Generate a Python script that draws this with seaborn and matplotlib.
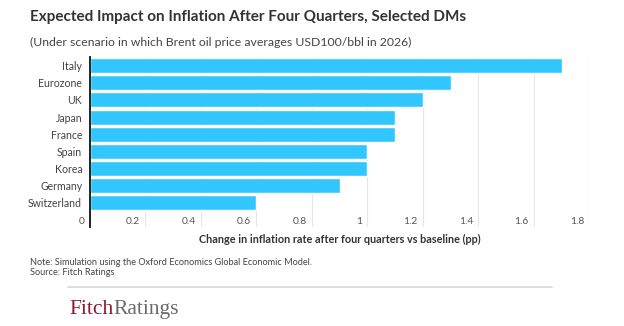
import matplotlib
matplotlib.use("Agg")
import matplotlib.pyplot as plt
import matplotlib.transforms as mtransforms
from matplotlib.lines import Line2D
import seaborn as sns
import pandas as pd

countries = ["Italy", "Eurozone", "UK", "Japan", "France", "Spain", "Korea", "Germany", "Switzerland"]
impact_pp = [1.7, 1.3, 1.2, 1.1, 1.1, 1.0, 1.0, 0.9, 0.6]
x_ticks = [0, 0.2, 0.4, 0.6, 0.8, 1.0, 1.2, 1.4, 1.6, 1.8]
x_tick_labels = ["0", "0.2", "0.4", "0.6", "0.8", "1", "1.2", "1.4", "1.6", "1.8"]

title = "Expected Impact on Inflation After Four Quarters, Selected DMs"
subtitle = "(Under scenario in which Brent oil price averages USD100/bbl in 2026)"
x_label = "Change in inflation rate after four quarters vs baseline (pp)"
note = "Note: Simulation using the Oxford Economics Global Economic Model."
source = "Source: Fitch Ratings"

sns.set_theme(style="white")
plt.rcParams["font.family"] = ["Lato", "DejaVu Sans"]

W, H = 624, 326
fig = plt.figure(figsize=(W / 100, H / 100), dpi=100)

def px(x, y):
    return x / W, 1 - y / H

left, right, top, bottom = 89.8, 589.3, 57, 227
ax = fig.add_axes([left / W, 1 - bottom / H, (right - left) / W, (bottom - top) / H])

df = pd.DataFrame({"country": countries, "impact": impact_pp})
sns.barplot(data=df, x="impact", y="country", orient="h", color="#31c6fd",
            saturation=1, width=0.88, ax=ax, zorder=2)

ax.set_xlim(0, 1.8)
ax.set_ylim(9.43, -0.51)
ax.set_ylabel("")

# grid and axis line
for s in ["top", "right", "bottom"]:
    ax.spines[s].set_visible(False)
ax.spines["left"].set_color("#111111")
ax.spines["left"].set_linewidth(1.3)
ax.spines["left"].set_zorder(3)
ax.set_axisbelow(True)
ax.xaxis.grid(True, color="#e6e6e6", linewidth=0.8)
ax.yaxis.grid(False)

# x ticks drawn inside the plot area, right-aligned just left of each gridline
ax.set_xticks(x_ticks)
ax.set_xticklabels(x_tick_labels)
ax.tick_params(axis="x", length=0, pad=-3.6, labelsize=7.4, labelcolor="#555555")
shift = mtransforms.ScaledTranslation(-5 / 100, 0, fig.dpi_scale_trans)
for lbl in ax.get_xticklabels():
    lbl.set_ha("right")
    lbl.set_va("center")
    lbl.set_transform(lbl.get_transform() + shift)

ax.tick_params(axis="y", length=0, pad=5.5, labelsize=7.6, labelcolor="#444444")

ax.set_xlabel(x_label, fontsize=7.8, fontweight="bold", color="#333333")
ax.xaxis.set_label_coords(0.5, (bottom - 239.5) / (bottom - top))
ax.xaxis.label.set_va("center")

# header
fig.text(*px(30, 17), title, fontsize=11, fontweight="bold", color="#333333", va="center", ha="left")
fig.text(*px(30, 42), subtitle, fontsize=8.8, color="#444444", va="center", ha="left")

# footer
fig.text(*px(29.5, 262.5), note, fontsize=6.55, color="#444444", va="center", ha="left")
fig.text(*px(29.5, 272.5), source, fontsize=6.55, color="#444444", va="center", ha="left")

fig.add_artist(Line2D([68 / W, 552 / W], [1 - 287 / H] * 2, color="#dddddd", linewidth=1.4))

fitch = fig.text(*px(69, 314), "Fitch", fontsize=15.5, color="#8c1b30",
                 family="Liberation Serif", va="baseline", ha="left")
ax.annotate("Ratings", xy=(1, 0), xycoords=fitch, fontsize=15.5, color="#6a6a6a",
            family="Liberation Serif", va="bottom", ha="left", annotation_clip=False)

fig.savefig("out.png", dpi=100, facecolor="white")
